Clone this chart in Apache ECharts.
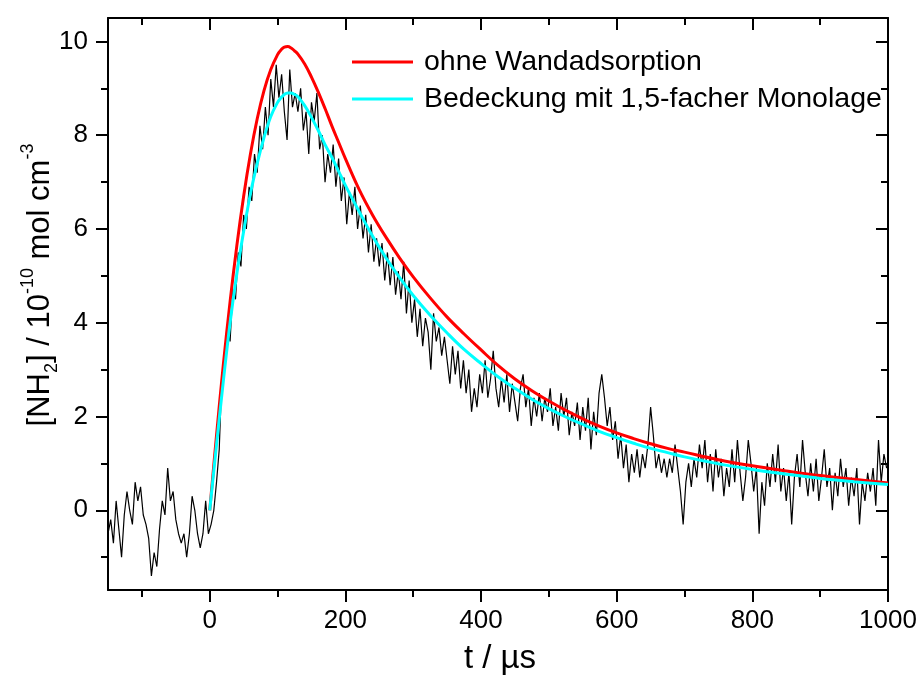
<!DOCTYPE html>
<html>
<head>
<meta charset="utf-8">
<script src="https://cdn.jsdelivr.net/npm/echarts@6/dist/echarts.min.js"></script>
<style>html,body{margin:0;padding:0;background:#fff}#c{width:920px;height:675px}</style>
</head>
<body>
<div id="c"></div>
<script>
// ---- data ----
const tStart = -150, tStep = 4;
const signal = [
 -0.5,-0.2,-0.7,0.2,-0.4,-1.0,-0.1,0.4,0.0,-0.3,
 0.6,0.2,0.5,-0.1,-0.3,-0.6,-1.4,-0.9,-1.2,-0.4,
 0.2,-0.1,0.9,0.2,0.4,-0.2,-0.5,-0.7,-0.5,-1.0,
 -0.5,0.3,0.0,-0.5,-0.8,-0.5,0.2,-0.5,
 -0.3,0.0,0.6,1.3,2.9,3.0,3.9,3.6,4.7,4.5,
 5.5,5.2,6.3,6.0,6.9,6.6,7.6,7.2,8.2,7.7,
 8.6,8.0,9.2,8.6,9.5,8.8,9.3,8.5,7.9,9.4,
 8.6,8.9,8.5,9.0,8.1,8.5,7.6,8.7,8.3,8.9,
 7.7,8.0,7.0,7.6,7.2,7.8,6.9,7.5,6.6,7.1,
 6.1,6.8,6.3,6.9,6.0,6.5,5.8,6.3,5.5,6.1,
 5.3,5.8,5.2,5.7,4.9,5.5,4.8,5.4,4.6,5.1,
 4.5,5.3,4.2,4.9,4.0,4.5,3.7,4.3,3.5,4.1,
 3.8,3.0,4.2,3.6,3.9,3.3,3.7,3.2,2.7,3.5,
 2.9,3.4,2.6,3.2,2.5,3.0,2.1,2.6,2.2,2.9,
 2.5,3.2,2.4,2.8,3.4,2.6,2.2,2.8,2.3,2.9,
 2.1,2.7,2.3,1.9,2.6,2.9,2.2,2.6,1.8,2.4,
 2.0,2.5,1.9,2.4,2.1,2.6,1.8,2.2,1.7,2.5,
 2.0,2.4,1.6,2.1,1.8,2.3,1.5,2.2,1.7,2.4,
 1.3,2.1,1.6,2.5,2.9,2.4,1.8,2.2,1.5,1.9,
 1.1,1.6,0.9,1.4,0.6,1.2,0.8,1.3,0.7,1.2,
 0.9,1.4,2.2,1.6,0.9,1.2,0.8,1.1,0.7,1.1,
 0.8,1.4,0.9,0.4,-0.3,0.6,1.0,0.5,1.1,0.7,
 1.4,0.9,1.5,0.6,1.2,0.4,1.3,0.7,1.1,0.3,
 0.9,0.5,1.3,0.6,1.5,0.8,0.2,0.7,1.5,1.0,
 0.4,0.9,-0.5,0.6,0.1,1.0,0.5,1.2,0.6,1.4,
 0.4,0.9,0.2,0.8,-0.3,0.7,1.2,0.5,1.5,0.8,
 0.3,1.0,0.4,1.1,0.2,0.7,1.3,0.5,0.9,0.0,
 0.8,0.3,1.1,0.5,0.9,0.1,0.7,0.3,0.9,-0.3,
 0.6,0.2,0.8,0.4,0.9,0.1,1.5,0.6,1.2,0.9
];
const fitT = [0,10,20,30,40,50,60,70,80,90,100,105,110,115,120,125,130,140,150,160,170,180,190,200,220,240,260,280,300,325,350,375,400,425,450,475,500,525,550,575,600,625,650,675,700,750,800,850,900,950,1000];
const redV = [0,1.6,3.1,4.45,5.65,6.7,7.6,8.35,8.95,9.4,9.72,9.82,9.88,9.89,9.86,9.8,9.73,9.52,9.24,8.92,8.57,8.2,7.85,7.5,6.85,6.3,5.82,5.38,4.98,4.53,4.12,3.76,3.42,3.09,2.8,2.55,2.33,2.13,1.95,1.79,1.65,1.53,1.42,1.32,1.24,1.08,0.95,0.84,0.74,0.66,0.58];
const cyanV = [0,1.4,2.75,4.0,5.05,5.95,6.75,7.4,7.95,8.4,8.7,8.8,8.87,8.9,8.9,8.87,8.82,8.63,8.38,8.1,7.8,7.53,7.23,6.93,6.38,5.85,5.38,4.96,4.58,4.16,3.78,3.43,3.13,2.85,2.6,2.37,2.17,1.99,1.83,1.68,1.55,1.43,1.32,1.23,1.14,0.99,0.87,0.77,0.68,0.61,0.55];
const xMajor = [0,200,400,600,800,1000];
const xMinor = [-100,100,300,500,700,900];
const yMajor = [0,2,4,6,8,10];
const yMinor = [-1,1,3,5,7,9];
const seriesNames = ['ohne Wandadsorption','Bedeckung mit 1,5-facher Monolage'];

// ---- chart ----
const FONT = 'Liberation Sans, Arial, sans-serif';
const chart = echarts.init(document.getElementById('c'), null, {renderer:'canvas'});
const sigData = signal.map((v,i)=>[tStart + i*tStep, v]);
const redData = fitT.map((t,i)=>[t, redV[i]]);
const cyanData = fitT.map((t,i)=>[t, cyanV[i]]);

function ax(pos, min, max, ticks, len, inside, showLine, labels){
  return {
    type:'value', position:pos, min:min, max:max, gridIndex:0,
    axisLine:{show:showLine, onZero:false, lineStyle:{color:'#000', width:2}},
    axisTick:{show:true, inside:inside, length:len, customValues:ticks, lineStyle:{color:'#000', width:2}},
    axisLabel: labels ? {show:true, customValues:ticks, formatter:(v)=>String(v), color:'#000', fontSize:26, fontFamily:FONT, margin: (pos==='bottom'?18:20)} : {show:false},
    splitLine:{show:false}, minorTick:{show:false}
  };
}

chart.setOption({
  animation:false,
  backgroundColor:'#fff',
  grid:{left:108, right:32, top:18, bottom:85, containLabel:false},
  xAxis:[
    ax('bottom',-150,1000,xMajor,12,false,true,true),
    ax('bottom',-150,1000,xMinor,7,false,false,false),
    ax('top',-150,1000,xMajor,12,true,true,false),
    ax('top',-150,1000,xMinor,7,true,false,false)
  ],
  yAxis:[
    ax('left',-1.7,10.5,yMajor,12,false,true,true),
    ax('left',-1.7,10.5,yMinor,7,false,false,false),
    ax('right',-1.7,10.5,yMajor,12,true,true,false),
    ax('right',-1.7,10.5,yMinor,7,true,false,false)
  ],
  legend:{
    data:seriesNames, orient:'vertical', left:352, top:46, padding:0,
    icon:'rect', itemWidth:61, itemHeight:3, itemGap:5,
    textStyle:{fontSize:28.5, fontFamily:FONT, color:'#000', lineHeight:32, padding:[0,0,0,6]}
  },
  series:[
    {type:'line', name:'data', data:sigData, xAxisIndex:0, yAxisIndex:0, showSymbol:false,
     lineStyle:{color:'#000', width:1.2}, itemStyle:{color:'#000'}, z:2},
    {type:'line', name:seriesNames[0], data:redData, xAxisIndex:0, yAxisIndex:0, showSymbol:false, smooth:0.4,
     lineStyle:{color:'#ff0000', width:3}, itemStyle:{color:'#ff0000'}, z:3},
    {type:'line', name:seriesNames[1], data:cyanData, xAxisIndex:0, yAxisIndex:0, showSymbol:false, smooth:0.4,
     lineStyle:{color:'#00ffff', width:3}, itemStyle:{color:'#00ffff'}, z:4}
  ],
  graphic:[
    {type:'text', position:[500,659], style:{text:'t / µs', x:0, y:0, align:'center', verticalAlign:'middle', fontSize:33, fontFamily:FONT, fill:'#000'}},
    {type:'text', position:[40,285], rotation:Math.PI/2,
     style:{
       text:'{m|[NH}{sub|2}{m|] / 10}{sup|-10}{m| mol cm}{sup|-3}',
       align:'center', verticalAlign:'middle', fill:'#000', fontFamily:FONT,
       rich:{
         m:{fontSize:31, fontFamily:FONT, fill:'#000', lineHeight:42, verticalAlign:'middle'},
         sub:{fontSize:18, fontFamily:FONT, fill:'#000', lineHeight:42, verticalAlign:'bottom'},
         sup:{fontSize:18, fontFamily:FONT, fill:'#000', lineHeight:42, verticalAlign:'top'}
       }
     }}
  ]
});
</script>
</body>
</html>
